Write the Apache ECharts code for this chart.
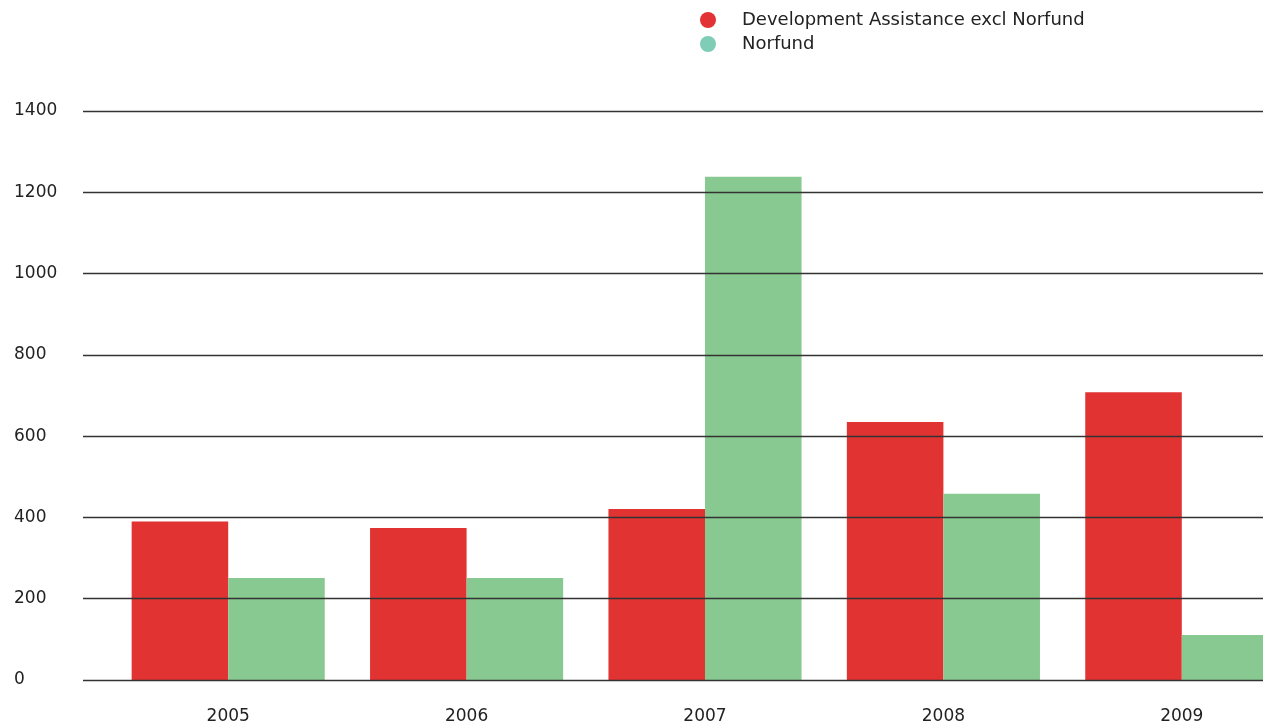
<!DOCTYPE html>
<html>
<head>
<meta charset="utf-8">
<script src="https://cdn.jsdelivr.net/npm/echarts@6/dist/echarts.min.js"></script>
<style>html,body{margin:0;padding:0;background:#fff;overflow:hidden;width:1263px;height:728px}#c{width:1301px;height:728px}</style>
</head>
<body>
<div id="c"></div>
<script>
const years = ['2005', '2006', '2007', '2008', '2009'];
const devAssistance = [390, 374, 421, 635, 708];
const norfund = [251, 251, 1238, 458, 111];
const yTicks = { min: 0, max: 1400, interval: 200 };
const seriesNames = ['Development Assistance excl Norfund', 'Norfund'];

const FONT = 'DejaVu Sans';
const chart = echarts.init(document.getElementById('c'));
chart.setOption({
  animation: false,
  backgroundColor: '#fff',
  legend: {
    orient: 'vertical',
    left: 695,
    top: 6,
    itemGap: 6,
    itemWidth: 16,
    itemHeight: 16,
    icon: 'circle',
    textStyle: { fontFamily: FONT, fontSize: 18, color: '#222', padding: [0, 0, 0, 21] },
    data: [
      { name: seriesNames[0], itemStyle: { color: '#e23236' } },
      { name: seriesNames[1], itemStyle: { color: '#7fcdb6' } }
    ]
  },
  grid: [
    { left: 109, right: 0, top: 111, bottom: 48 },
    { left: 83, right: 38, top: 111, bottom: 48 }
  ],
  xAxis: [
    {
      type: 'category', data: years, gridIndex: 0,
      axisLine: { show: false }, axisTick: { show: false },
      axisLabel: { fontFamily: FONT, fontSize: 17, color: '#222', margin: 28 }
    },
    { type: 'value', gridIndex: 1, show: false, min: 0, max: 1 }
  ],
  yAxis: [
    {
      type: 'value', gridIndex: 0, min: yTicks.min, max: yTicks.max, interval: yTicks.interval,
      show: false, splitLine: { show: false }
    },
    {
      type: 'value', gridIndex: 1, min: yTicks.min, max: yTicks.max, interval: yTicks.interval,
      z: 10,
      axisLine: { show: false }, axisTick: { show: false },
      axisLabel: { fontFamily: FONT, fontSize: 17, color: '#222', align: 'left', margin: 69,
        formatter: v => String(v) },
      splitLine: { show: true, lineStyle: { color: '#333', width: 1.3 } }
    }
  ],
  series: [
    {
      name: seriesNames[0], type: 'bar', xAxisIndex: 0, yAxisIndex: 0,
      data: devAssistance, barGap: '0%', barCategoryGap: '19%',
      itemStyle: { color: '#e23333' }
    },
    {
      name: seriesNames[1], type: 'bar', xAxisIndex: 0, yAxisIndex: 0,
      data: norfund, barGap: '0%', barCategoryGap: '19%',
      itemStyle: { color: '#88c891' }
    }
  ]
});
</script>
</body>
</html>
